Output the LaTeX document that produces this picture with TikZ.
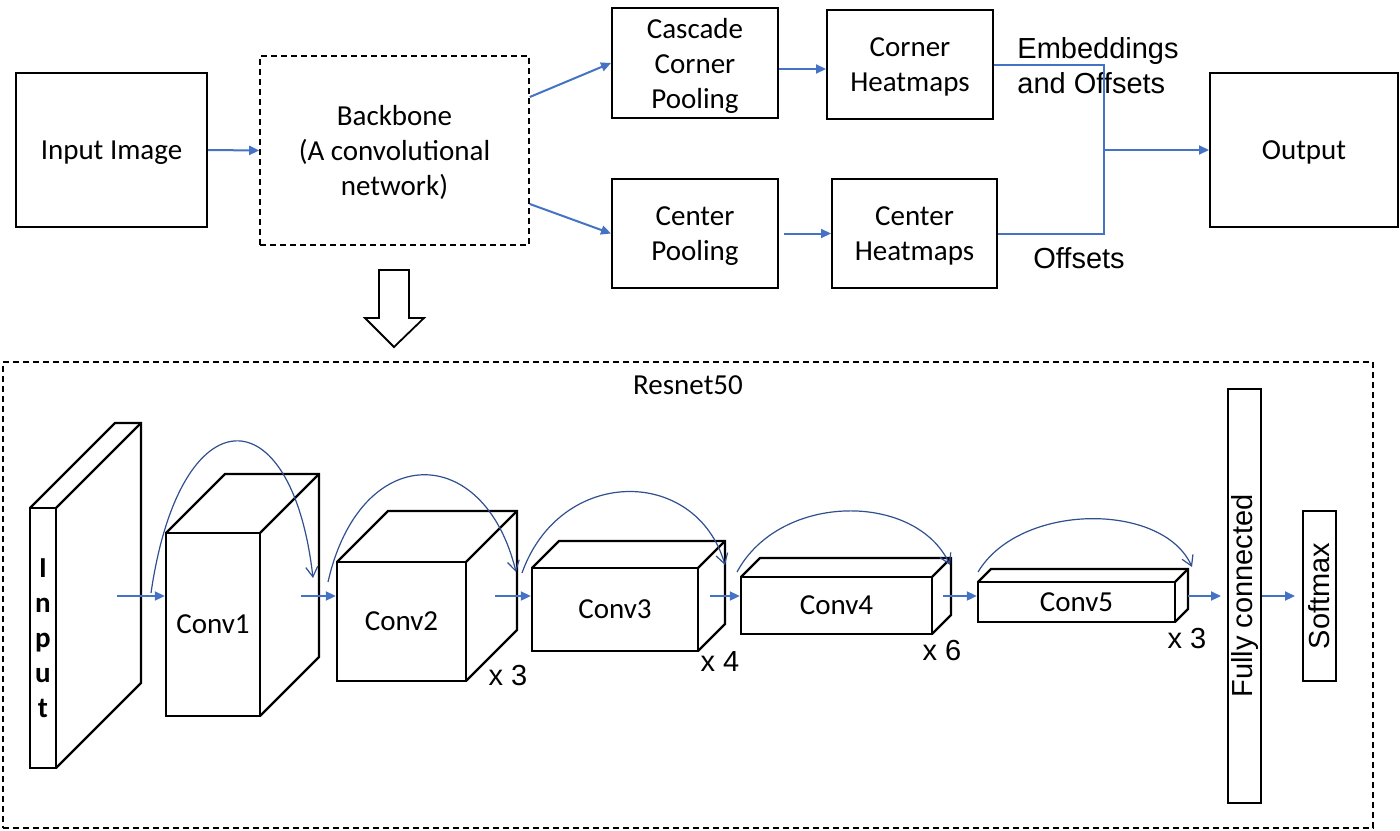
\documentclass[tikz,border=0pt]{standalone}
\usepackage{fontspec}
\setmainfont{Carlito}
\newfontfamily\arialf{Liberation Sans}
\usetikzlibrary{arrows.meta,calc}
\definecolor{arrblue}{HTML}{4472C4}
\definecolor{skipblue}{HTML}{2F4F8F}
\newcommand\mycuboid[7]{%
  \draw[cube] (#2,#3) -- ({#2+#6},{#3-#6}) -- ({#4+#6},{#3-#6}) -- ({#4+#6},{#5-#6}) -- (#4,#5);
  \draw[cube] (#4,#3) -- ({#4+#6},{#3-#6});
  \node[box, cube, minimum width={(#4-#2)*0.5pt}, minimum height={(#5-#3)*0.5pt}] (#1) at ({(#2+#4)/2},{(#3+#5)/2}) {#7};
}
\begin{document}
\begin{tikzpicture}[x=0.5pt,y=-0.5pt,
  txt/.style={font=\fontsize{14.5}{17.5}\selectfont},
  atxt/.style={font=\arialf\fontsize{14.5}{17.5}\selectfont},
  box/.style={draw, line width=1pt, inner sep=0pt, align=center, txt},
  tbox/.style={box, text depth=0pt},
  dbox/.style={box, dashed, dash pattern=on 3pt off 2pt, line width=0.8pt},
  cube/.style={line width=1.2pt, line join=miter},
  arr/.style={draw=arrblue, line width=1pt, -{Triangle[length=5pt,width=4.5pt]}},
  line/.style={draw=arrblue, line width=1pt},
  skip/.style={draw=skipblue, line width=0.6pt, -{Straight Barb[length=5pt,width=6pt]}},
  hollow/.style={draw, line width=0.9pt, fill=white, line join=miter}
]
\useasboundingbox (0,0) rectangle (1400,830);

% ---------- top row ----------
\node[tbox, minimum width=95.5pt, minimum height=77pt] (inp) at (111.5,150) {Input Image};
\node[dbox, text depth=0pt, minimum width=134.5pt, minimum height=94.5pt] (back) at (394.5,150.5) {Backbone\\(A convolutional\\network)};
\node[tbox, minimum width=83pt, minimum height=55pt] (casc) at (695,63) {Cascade\\Corner\\Pooling};
\node[tbox, minimum width=83pt, minimum height=54.5pt] (cpool) at (695,233.5) {Center\\Pooling};
\node[tbox, minimum width=83pt, minimum height=54.5pt] (cheat) at (910,64.5) {Corner\\Heatmaps};
\node[tbox, minimum width=82.5pt, minimum height=54.5pt] (ceheat) at (914.5,233.5) {Center\\Heatmaps};
\node[tbox, minimum width=94pt, minimum height=77pt] (out) at (1304,150) {Output};

\node[atxt, anchor=west, align=left, inner sep=0pt] (emb) at (1017,65.5) {Embeddings\\and Offsets};
\node[atxt, inner sep=0pt] (offs) at (1079,258) {Offsets};

\draw[arr] (inp.east) -- (back.west);
\draw[arr] ($(back.east)+(0,-53.5)$) -- (casc.west);
\draw[arr] ($(back.east)+(0,53.5)$) -- (cpool.west);
\draw[arr] ($(casc.east)+(0,6)$) -- ($(cheat.west)+(0,4.5)$);
\draw[arr, shorten <=2.5pt] (cpool.east) -- (ceheat.west);
\coordinate (j) at (1104,150);
\draw[line] (cheat.east) -| (j);
\draw[line] (ceheat.east) -| (j);
\draw[arr] (j) -- (out.west);

% hollow down arrow
\draw[hollow] (379,270) -- (409,270) -- (409,318) -- (424,318) -- (394,347) -- (365,318) -- (379,318) -- cycle;

% ---------- Resnet50 ----------
\node[dbox, minimum width=685pt, minimum height=233pt] (res) at (688,595) {};
\node[txt] (restitle) at (688,385) {Resnet50};

\mycuboid{inpt}{30}{508}{56}{768}{85}{\textbf{I}\\\textbf{n}\\\textbf{p}\\\textbf{u}\\\textbf{t}}
\mycuboid{c1}{166}{533}{260}{716}{59}{Conv1}
\mycuboid{c2}{337}{562}{466}{681}{51}{Conv2}
\mycuboid{c3}{532}{568}{698}{651}{27}{Conv3}
\mycuboid{c4}{741}{577}{932}{634}{19}{Conv4}
\mycuboid{c5}{978}{582}{1175}{622}{13}{Conv5}

\node[box, minimum width=16.5pt, minimum height=207pt] (fc) at (1244.5,596) {};
\node[atxt, rotate=90, inner sep=0pt] (fct) at (fc.center) {Fully connected};
\node[box, minimum width=16.5pt, minimum height=85pt] (sm) at (1319.5,596) {};
\node[atxt, rotate=90, inner sep=0pt] (smt) at (sm.center) {Softmax};

\node[atxt, inner sep=0pt] (x1) at (508,676) {x 3};
\node[atxt, inner sep=0pt] (x2) at (720,662) {x 4};
\node[atxt, inner sep=0pt] (x3) at (942,651) {x 6};
\node[atxt, inner sep=0pt] (x4) at (1187,639) {x 3};

% straight arrows
\coordinate (s1) at (117,596);
\coordinate (s2) at (301,596);
\coordinate (s3) at (495,596);
\coordinate (s4) at (710,596);
\coordinate (s5) at (943,596);
\coordinate (s6) at (1188,596);
\draw[arr] (s1) -- (c1.west |- s1);
\draw[arr] (s2) -- (c2.west |- s2);
\draw[arr] (s3) -- (c3.west |- s3);
\draw[arr] (s4) -- (c4.west |- s4);
\draw[arr] (s5) -- (c5.west |- s5);
\draw[arr, shorten >=3pt] (s6) -- (fc.west |- s6);
\draw[arr, shorten >=3.5pt] (fc.east) -- (sm.west);

% skip connections
\coordinate (k1a) at (151,593); \coordinate (k1b) at (313,578);
\coordinate (k2a) at (328,582); \coordinate (k2b) at (516,572);
\coordinate (k3a) at (522,573); \coordinate (k3b) at (725,565);
\coordinate (k4a) at (737,572); \coordinate (k4b) at (950,565);
\coordinate (k5a) at (978,572); \coordinate (k5b) at (1192,567);
\draw[skip] (k1a) .. controls (180,393) and (292,393) .. (k1b);
\draw[skip] (k2a) .. controls (360,441) and (484,441) .. (k2b);
\draw[skip] (k3a) .. controls (560,466) and (696,466) .. (k3b);
\draw[skip] (k4a) .. controls (780,492) and (916,492) .. (k4b);
\draw[skip] (k5a) .. controls (1020,502) and (1163,502) .. (k5b);
\end{tikzpicture}
\end{document}
